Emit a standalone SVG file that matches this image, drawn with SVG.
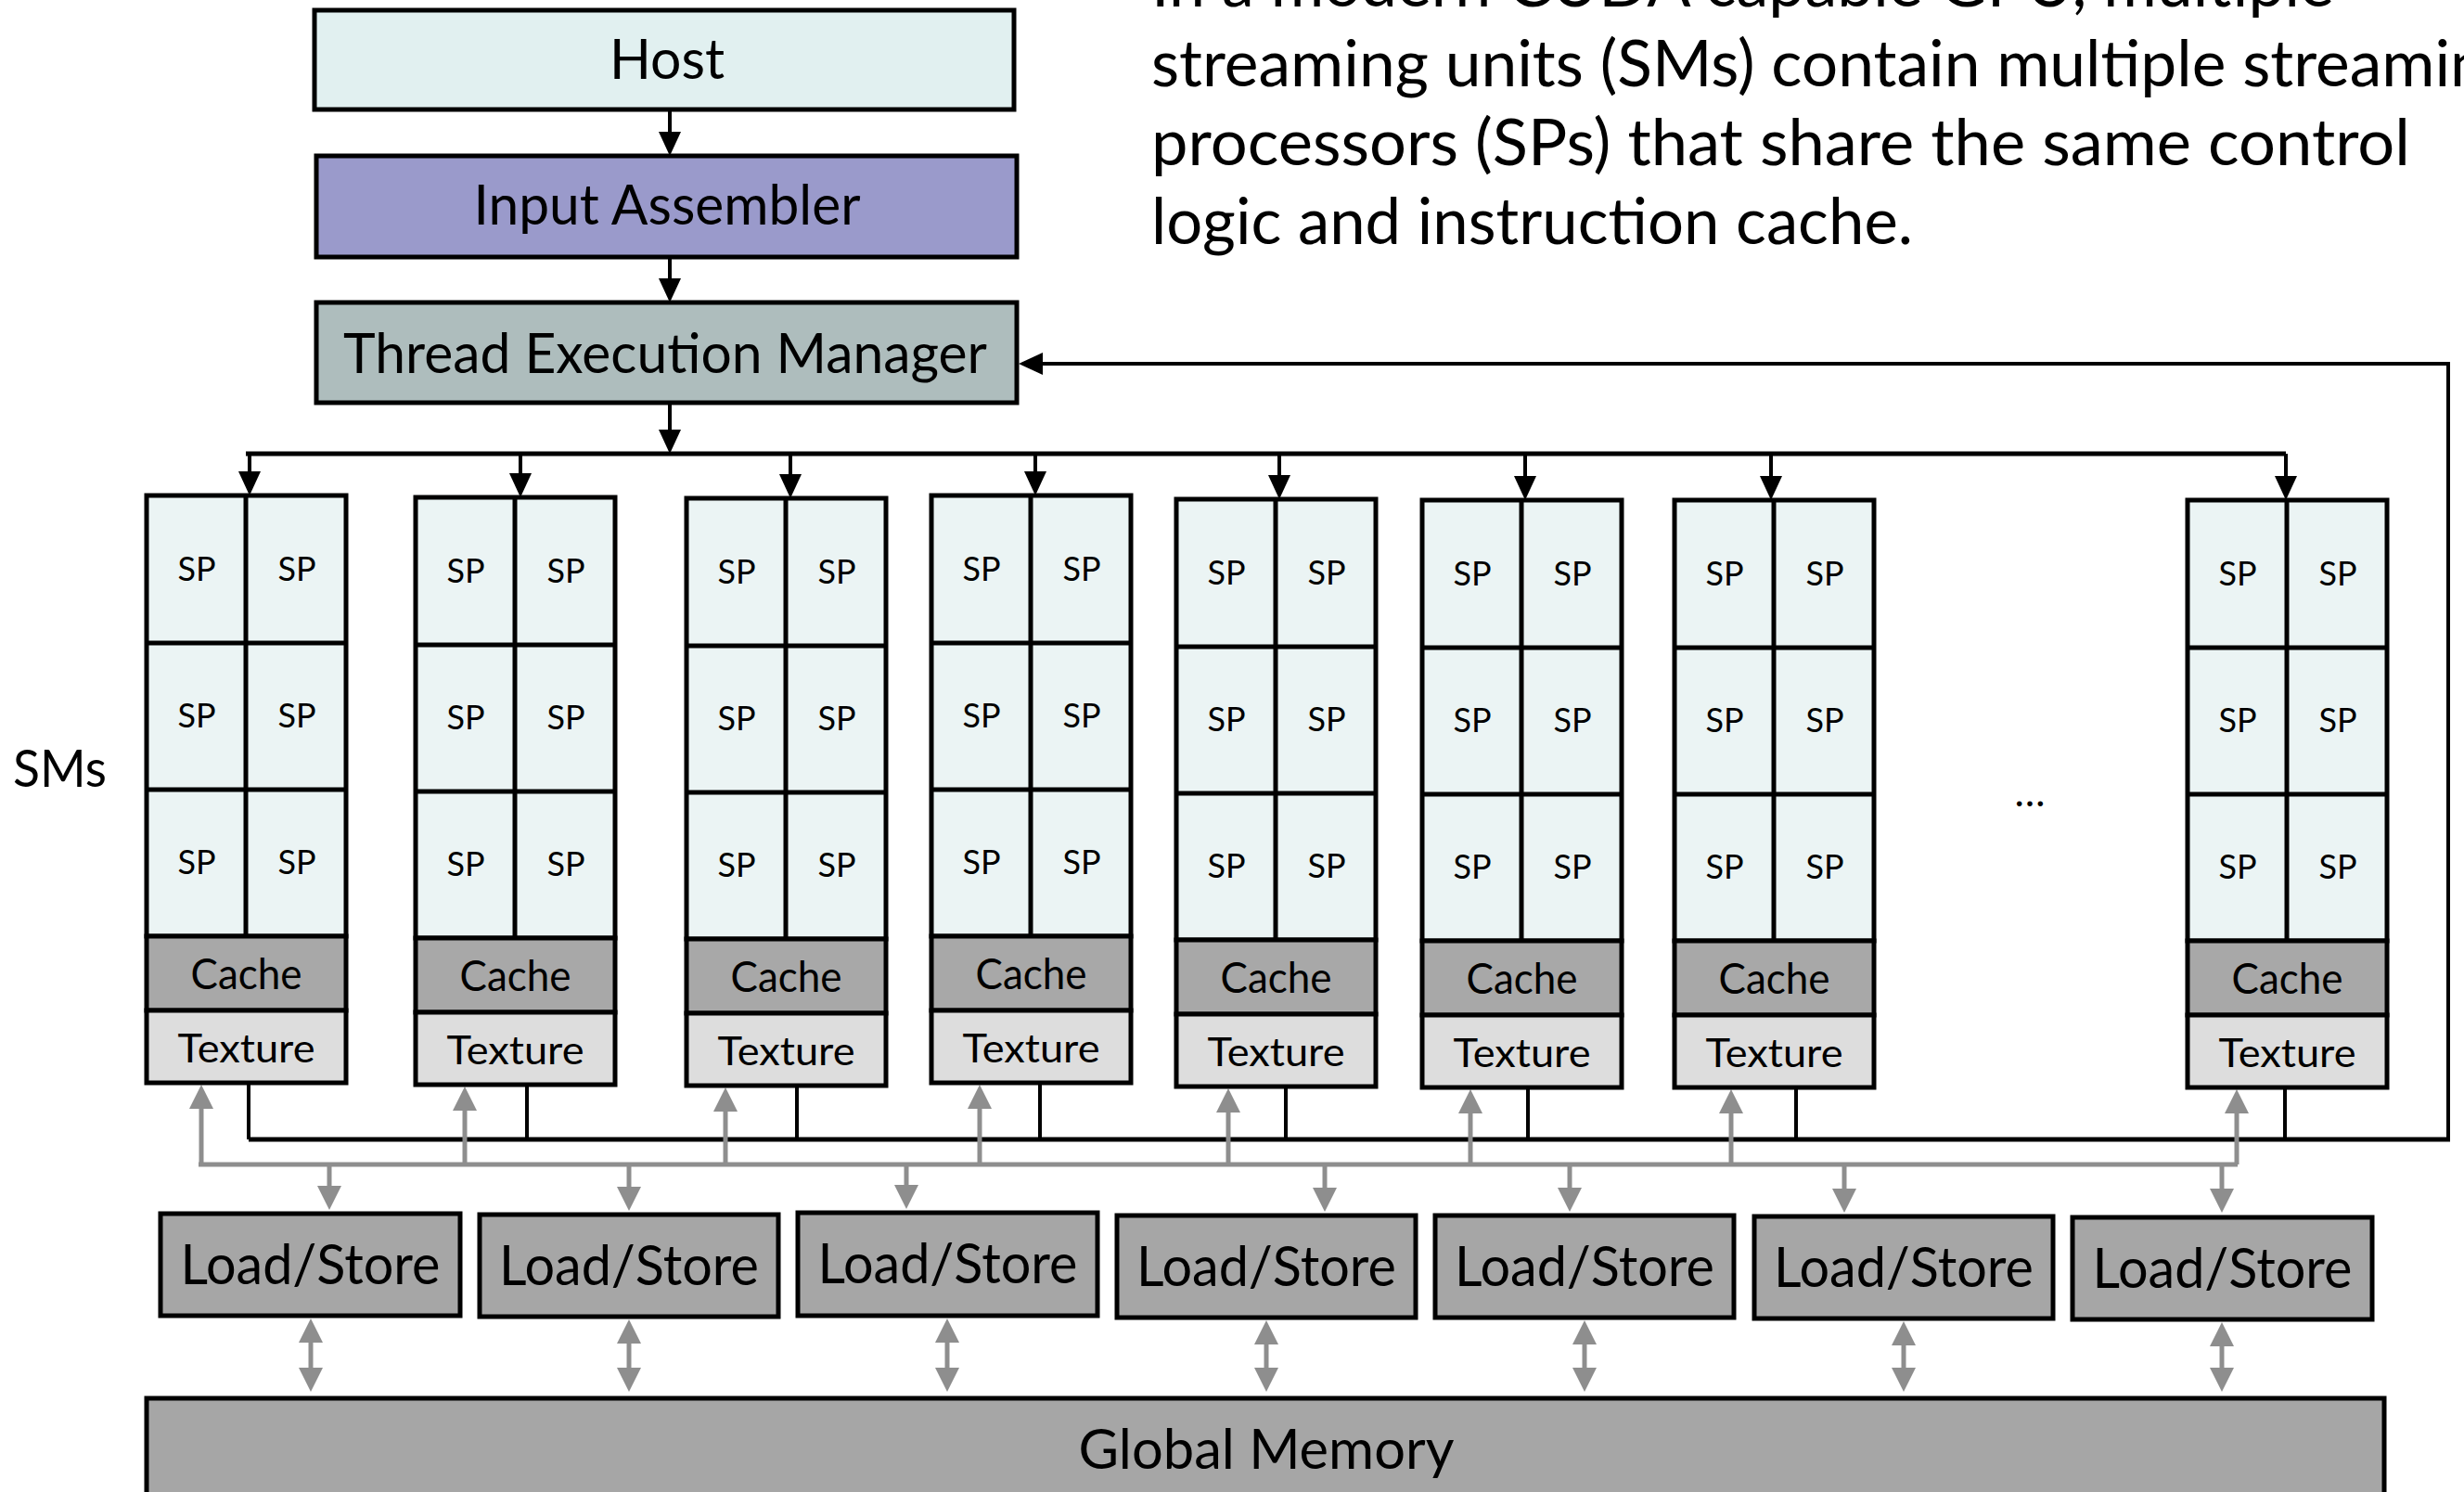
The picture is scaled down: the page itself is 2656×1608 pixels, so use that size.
<svg xmlns="http://www.w3.org/2000/svg" width="2656" height="1608" viewBox="0 0 2656 1608">
<style>
text{font-family:Lato,"Open Sans","Liberation Sans",sans-serif;fill:#000}
.box{stroke:#000;stroke-width:5}
.host{fill:#E1F0F0}
.ia{fill:#9A9ACB}
.tem{fill:#AEBDBD}
.sp{fill:#EBF4F4;stroke:#000;stroke-width:5}
.cache{fill:#A8A8A8;stroke:#000;stroke-width:5}
.tex{fill:#DDDDDD;stroke:#000;stroke-width:5}
.div{fill:none;stroke:#000;stroke-width:5}
.ls{fill:#A6A6A6;stroke:#000;stroke-width:5}
.gm{fill:#A6A6A6;stroke:#000;stroke-width:5}
.blk{fill:none;stroke:#000;stroke-width:4}
.bus{fill:none;stroke:#000;stroke-width:5}
.gry{fill:none;stroke:#8E8E8E;stroke-width:5}
.spt{font-size:36px;text-anchor:middle}
.ct{font-size:46px;text-anchor:middle}
.tt{font-size:43px;text-anchor:middle}
.lst{font-size:60px;text-anchor:middle}
.big{font-size:60px;text-anchor:middle}
.para{font-size:70px}
</style>
<defs>
<marker id="ab" markerUnits="userSpaceOnUse" markerWidth="26" markerHeight="24" refX="12" refY="12" orient="auto-start-reverse" viewBox="0 0 26 24">
<path d="M0,0 L26,12 L0,24 z" fill="#000"/>
</marker>
<marker id="ag" markerUnits="userSpaceOnUse" markerWidth="26" markerHeight="26" refX="12" refY="13" orient="auto-start-reverse" viewBox="0 0 26 26">
<path d="M0,0 L26,13 L0,26 z" fill="#8E8E8E"/>
</marker>
</defs>
<rect width="2656" height="1608" fill="#fff"/>

<g id="description">
<text class="para" x="1241" y="7" textLength="1275" lengthAdjust="spacingAndGlyphs">In a modern CUDA capable GPU, multiple</text>
<text class="para" x="1241" y="93" textLength="1475" lengthAdjust="spacingAndGlyphs">streaming units (SMs) contain multiple streaming</text>
<text class="para" x="1241" y="178" textLength="1357" lengthAdjust="spacingAndGlyphs">processors (SPs) that share the same control</text>
<text class="para" x="1241" y="263" textLength="821" lengthAdjust="spacingAndGlyphs">logic and instruction cache.</text>
</g>

<g id="connectors">
<path class="blk" d="M722,118 V154" marker-end="url(#ab)"/>
<path class="blk" d="M722,277 V312" marker-end="url(#ab)"/>
<path class="blk" d="M722,434 V475" marker-end="url(#ab)"/>
<path class="bus" d="M265,489 H2464"/>
<path class="blk" d="M269,489 V520" marker-end="url(#ab)"/>
<path class="blk" d="M561,489 V522" marker-end="url(#ab)"/>
<path class="blk" d="M852,489 V523" marker-end="url(#ab)"/>
<path class="blk" d="M1116,489 V520" marker-end="url(#ab)"/>
<path class="blk" d="M1379,489 V524" marker-end="url(#ab)"/>
<path class="blk" d="M1644,489 V525" marker-end="url(#ab)"/>
<path class="blk" d="M1909,489 V525" marker-end="url(#ab)"/>
<path class="blk" d="M2464,489 V525" marker-end="url(#ab)"/>
<path class="blk" d="M2639,1228 V392 H1112" marker-end="url(#ab)"/>
<path class="bus" d="M268,1228 H2641"/>
<path class="blk" d="M268,1167 V1228 M568,1169 V1228 M859,1170 V1228 M1121,1167 V1228 M1386,1171 V1228 M1647,1172 V1228 M1936,1172 V1228 M2463,1172 V1228"/>
<path class="gry" d="M214,1255 H2412"/>
<path class="gry" d="M217,1255 V1183" marker-end="url(#ag)"/>
<path class="gry" d="M501,1255 V1185" marker-end="url(#ag)"/>
<path class="gry" d="M782,1255 V1186" marker-end="url(#ag)"/>
<path class="gry" d="M1056,1255 V1183" marker-end="url(#ag)"/>
<path class="gry" d="M1324,1255 V1187" marker-end="url(#ag)"/>
<path class="gry" d="M1585,1255 V1188" marker-end="url(#ag)"/>
<path class="gry" d="M1866,1255 V1188" marker-end="url(#ag)"/>
<path class="gry" d="M2411,1255 V1188" marker-end="url(#ag)"/>
<path class="gry" d="M355,1255 V1290" marker-end="url(#ag)"/>
<path class="gry" d="M678,1255 V1291" marker-end="url(#ag)"/>
<path class="gry" d="M977,1255 V1289" marker-end="url(#ag)"/>
<path class="gry" d="M1428,1255 V1292" marker-end="url(#ag)"/>
<path class="gry" d="M1692,1255 V1292" marker-end="url(#ag)"/>
<path class="gry" d="M1988,1255 V1293" marker-end="url(#ag)"/>
<path class="gry" d="M2395,1255 V1293" marker-end="url(#ag)"/>
<path class="gry" d="M335,1435 V1486" marker-start="url(#ag)" marker-end="url(#ag)"/>
<path class="gry" d="M678,1436 V1486" marker-start="url(#ag)" marker-end="url(#ag)"/>
<path class="gry" d="M1021,1435 V1486" marker-start="url(#ag)" marker-end="url(#ag)"/>
<path class="gry" d="M1365,1437 V1486" marker-start="url(#ag)" marker-end="url(#ag)"/>
<path class="gry" d="M1708,1437 V1486" marker-start="url(#ag)" marker-end="url(#ag)"/>
<path class="gry" d="M2052,1438 V1486" marker-start="url(#ag)" marker-end="url(#ag)"/>
<path class="gry" d="M2395,1439 V1486" marker-start="url(#ag)" marker-end="url(#ag)"/>
</g>

<g id="host"><rect class="box host" x="339" y="11" width="754" height="107"/><text class="big" x="719" y="85" textLength="124" lengthAdjust="spacingAndGlyphs">Host</text></g>
<g id="input-assembler"><rect class="box ia" x="341" y="168" width="755" height="109"/><text class="big" x="719" y="242" textLength="417" lengthAdjust="spacingAndGlyphs">Input Assembler</text></g>
<g id="thread-execution-manager"><rect class="box tem" x="341" y="326" width="755" height="108"/><text class="big" x="717" y="402" textLength="694" lengthAdjust="spacingAndGlyphs">Thread Execution Manager</text></g>

<text id="sms-label" x="14" y="848" font-size="56" textLength="101" lengthAdjust="spacingAndGlyphs">SMs</text>

<g id="sm1" transform="translate(158,534)">
<rect class="sp" x="0" y="0" width="215" height="475"/><rect class="cache" x="0" y="475" width="215" height="80"/><rect class="tex" x="0" y="555" width="215" height="78"/>
<path class="div" d="M107,0V475M0,159H215M0,317H215"/>
<text class="spt" x="54" y="92">SP</text><text class="spt" x="162" y="92">SP</text>
<text class="spt" x="54" y="250">SP</text><text class="spt" x="162" y="250">SP</text>
<text class="spt" x="54" y="408">SP</text><text class="spt" x="162" y="408">SP</text>
<text class="ct" x="107.5" y="532" textLength="120" lengthAdjust="spacingAndGlyphs">Cache</text>
<text class="tt" x="107.5" y="611" textLength="148" lengthAdjust="spacingAndGlyphs">Texture</text>
</g>
<g id="sm2" transform="translate(448,536)">
<rect class="sp" x="0" y="0" width="215" height="475"/><rect class="cache" x="0" y="475" width="215" height="80"/><rect class="tex" x="0" y="555" width="215" height="78"/>
<path class="div" d="M107,0V475M0,159H215M0,317H215"/>
<text class="spt" x="54" y="92">SP</text><text class="spt" x="162" y="92">SP</text>
<text class="spt" x="54" y="250">SP</text><text class="spt" x="162" y="250">SP</text>
<text class="spt" x="54" y="408">SP</text><text class="spt" x="162" y="408">SP</text>
<text class="ct" x="107.5" y="532" textLength="120" lengthAdjust="spacingAndGlyphs">Cache</text>
<text class="tt" x="107.5" y="611" textLength="148" lengthAdjust="spacingAndGlyphs">Texture</text>
</g>
<g id="sm3" transform="translate(740,537)">
<rect class="sp" x="0" y="0" width="215" height="475"/><rect class="cache" x="0" y="475" width="215" height="80"/><rect class="tex" x="0" y="555" width="215" height="78"/>
<path class="div" d="M107,0V475M0,159H215M0,317H215"/>
<text class="spt" x="54" y="92">SP</text><text class="spt" x="162" y="92">SP</text>
<text class="spt" x="54" y="250">SP</text><text class="spt" x="162" y="250">SP</text>
<text class="spt" x="54" y="408">SP</text><text class="spt" x="162" y="408">SP</text>
<text class="ct" x="107.5" y="532" textLength="120" lengthAdjust="spacingAndGlyphs">Cache</text>
<text class="tt" x="107.5" y="611" textLength="148" lengthAdjust="spacingAndGlyphs">Texture</text>
</g>
<g id="sm4" transform="translate(1004,534)">
<rect class="sp" x="0" y="0" width="215" height="475"/><rect class="cache" x="0" y="475" width="215" height="80"/><rect class="tex" x="0" y="555" width="215" height="78"/>
<path class="div" d="M107,0V475M0,159H215M0,317H215"/>
<text class="spt" x="54" y="92">SP</text><text class="spt" x="162" y="92">SP</text>
<text class="spt" x="54" y="250">SP</text><text class="spt" x="162" y="250">SP</text>
<text class="spt" x="54" y="408">SP</text><text class="spt" x="162" y="408">SP</text>
<text class="ct" x="107.5" y="532" textLength="120" lengthAdjust="spacingAndGlyphs">Cache</text>
<text class="tt" x="107.5" y="611" textLength="148" lengthAdjust="spacingAndGlyphs">Texture</text>
</g>
<g id="sm5" transform="translate(1268,538)">
<rect class="sp" x="0" y="0" width="215" height="475"/><rect class="cache" x="0" y="475" width="215" height="80"/><rect class="tex" x="0" y="555" width="215" height="78"/>
<path class="div" d="M107,0V475M0,159H215M0,317H215"/>
<text class="spt" x="54" y="92">SP</text><text class="spt" x="162" y="92">SP</text>
<text class="spt" x="54" y="250">SP</text><text class="spt" x="162" y="250">SP</text>
<text class="spt" x="54" y="408">SP</text><text class="spt" x="162" y="408">SP</text>
<text class="ct" x="107.5" y="532" textLength="120" lengthAdjust="spacingAndGlyphs">Cache</text>
<text class="tt" x="107.5" y="611" textLength="148" lengthAdjust="spacingAndGlyphs">Texture</text>
</g>
<g id="sm6" transform="translate(1533,539)">
<rect class="sp" x="0" y="0" width="215" height="475"/><rect class="cache" x="0" y="475" width="215" height="80"/><rect class="tex" x="0" y="555" width="215" height="78"/>
<path class="div" d="M107,0V475M0,159H215M0,317H215"/>
<text class="spt" x="54" y="92">SP</text><text class="spt" x="162" y="92">SP</text>
<text class="spt" x="54" y="250">SP</text><text class="spt" x="162" y="250">SP</text>
<text class="spt" x="54" y="408">SP</text><text class="spt" x="162" y="408">SP</text>
<text class="ct" x="107.5" y="532" textLength="120" lengthAdjust="spacingAndGlyphs">Cache</text>
<text class="tt" x="107.5" y="611" textLength="148" lengthAdjust="spacingAndGlyphs">Texture</text>
</g>
<g id="sm7" transform="translate(1805,539)">
<rect class="sp" x="0" y="0" width="215" height="475"/><rect class="cache" x="0" y="475" width="215" height="80"/><rect class="tex" x="0" y="555" width="215" height="78"/>
<path class="div" d="M107,0V475M0,159H215M0,317H215"/>
<text class="spt" x="54" y="92">SP</text><text class="spt" x="162" y="92">SP</text>
<text class="spt" x="54" y="250">SP</text><text class="spt" x="162" y="250">SP</text>
<text class="spt" x="54" y="408">SP</text><text class="spt" x="162" y="408">SP</text>
<text class="ct" x="107.5" y="532" textLength="120" lengthAdjust="spacingAndGlyphs">Cache</text>
<text class="tt" x="107.5" y="611" textLength="148" lengthAdjust="spacingAndGlyphs">Texture</text>
</g>
<g id="sm8" transform="translate(2358,539)">
<rect class="sp" x="0" y="0" width="215" height="475"/><rect class="cache" x="0" y="475" width="215" height="80"/><rect class="tex" x="0" y="555" width="215" height="78"/>
<path class="div" d="M107,0V475M0,159H215M0,317H215"/>
<text class="spt" x="54" y="92">SP</text><text class="spt" x="162" y="92">SP</text>
<text class="spt" x="54" y="250">SP</text><text class="spt" x="162" y="250">SP</text>
<text class="spt" x="54" y="408">SP</text><text class="spt" x="162" y="408">SP</text>
<text class="ct" x="107.5" y="532" textLength="120" lengthAdjust="spacingAndGlyphs">Cache</text>
<text class="tt" x="107.5" y="611" textLength="148" lengthAdjust="spacingAndGlyphs">Texture</text>
</g>

<text id="ellipsis" x="2188" y="869" font-size="44" text-anchor="middle">…</text>

<g id="ls1"><rect class="ls" x="173" y="1308" width="323" height="110"/><text class="lst" x="334.5" y="1384" textLength="280" lengthAdjust="spacingAndGlyphs">Load/Store</text></g>
<g id="ls2"><rect class="ls" x="517" y="1309" width="322" height="110"/><text class="lst" x="678" y="1385" textLength="280" lengthAdjust="spacingAndGlyphs">Load/Store</text></g>
<g id="ls3"><rect class="ls" x="860" y="1307" width="323" height="111"/><text class="lst" x="1021.5" y="1383" textLength="280" lengthAdjust="spacingAndGlyphs">Load/Store</text></g>
<g id="ls4"><rect class="ls" x="1204" y="1310" width="322" height="110"/><text class="lst" x="1365" y="1386" textLength="280" lengthAdjust="spacingAndGlyphs">Load/Store</text></g>
<g id="ls5"><rect class="ls" x="1547" y="1310" width="322" height="110"/><text class="lst" x="1708" y="1386" textLength="280" lengthAdjust="spacingAndGlyphs">Load/Store</text></g>
<g id="ls6"><rect class="ls" x="1891" y="1311" width="322" height="110"/><text class="lst" x="2052" y="1387" textLength="280" lengthAdjust="spacingAndGlyphs">Load/Store</text></g>
<g id="ls7"><rect class="ls" x="2234" y="1312" width="323" height="110"/><text class="lst" x="2395.5" y="1388" textLength="280" lengthAdjust="spacingAndGlyphs">Load/Store</text></g>

<g id="global-memory"><rect class="gm" x="158" y="1507" width="2412" height="200"/><text class="big" x="1365" y="1583" textLength="405" lengthAdjust="spacingAndGlyphs">Global Memory</text></g>
</svg>
